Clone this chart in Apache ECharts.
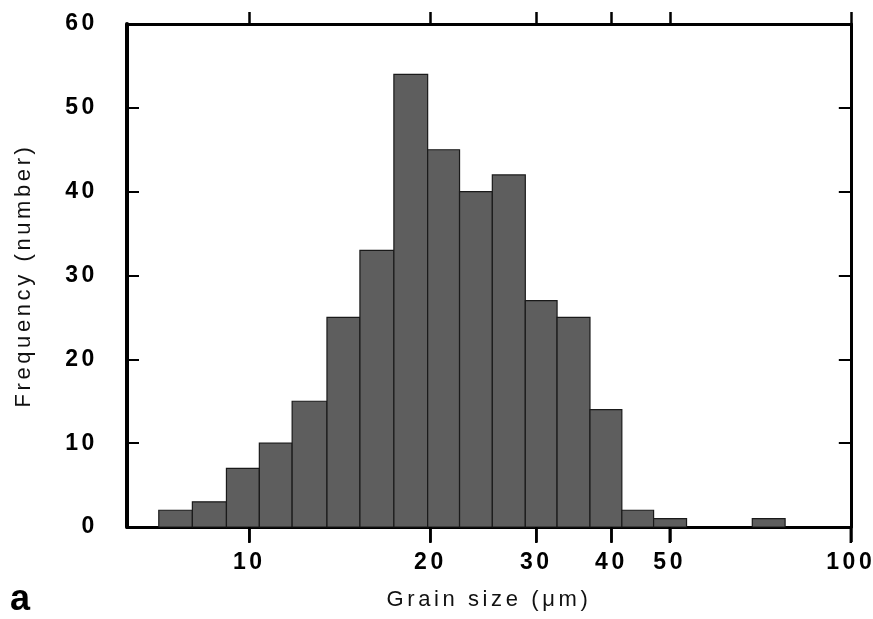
<!DOCTYPE html>
<html>
<head>
<meta charset="utf-8">
<title>Grain size histogram</title>
<script src="https://cdn.jsdelivr.net/npm/echarts@6/dist/echarts.min.js"></script>
<style>
html, body { margin: 0; padding: 0; background: #fff; }
#chart { width: 873px; height: 619px; }
</style>
</head>
<body>
<div id="chart"></div>
<script>
// bin edges in µm (one more edge than counts)
const binEdges = [7.07, 8.04, 9.16, 10.39, 11.78, 13.46, 15.27, 17.39, 19.79, 22.36,
    25.35, 28.76, 32.48, 36.84, 41.62, 47.0, 53.32, 60.47, 68.58, 77.76]
const counts = [2, 3, 7, 10, 15, 25, 33, 54, 45, 40, 42, 27, 25, 14, 2, 1, 0, 0, 1]
const xTicks = [10, 20, 30, 40, 50, 100]
const yTicks = [0, 10, 20, 30, 40, 50, 60]
const xMin = 6.26
const xMax = 100

// the x axis is drawn as a value axis over log10(size), so every tick lands exactly
const lg = v => Math.log10(v)
const barData = counts.map((c, i) => [lg(binEdges[i]), lg(binEdges[i + 1]), c])
const xTickPos = xTicks.map(lg)

const xName = 'Grain size (μm)'
const yName = 'Frequency (number)'

// the printed axis titles are letter-spaced: widen them when the canvas draws them
const spaced = new Set([xName, yName])
const origFillText = CanvasRenderingContext2D.prototype.fillText
CanvasRenderingContext2D.prototype.fillText = function (text, x, y, maxWidth) {
    if (spaced.has(text)) {
        const old = this.letterSpacing
        this.letterSpacing = '3.6px'
        origFillText.call(this, text, x, y)
        this.letterSpacing = old
        return
    }
    return maxWidth === undefined
        ? origFillText.call(this, text, x, y)
        : origFillText.call(this, text, x, y, maxWidth)
}

const font = 'Liberation Sans, Arial, Helvetica, sans-serif'
const labelStyle = {
    fontFamily: font,
    fontWeight: 'bold',
    fontSize: 23,
    color: '#000'
}
const nameStyle = {
    fontFamily: font,
    fontSize: 22,
    color: '#111'
}

let chartInstance = echarts.init(document.getElementById('chart'), null, { renderer: 'canvas' })

const xBase = {
    type: 'value',
    min: lg(xMin),
    max: lg(xMax),
    axisLine: { show: true, onZero: false, lineStyle: { color: '#000', width: 3 } },
    splitLine: { show: false },
    minorTick: { show: false }
}

const option = {
    animation: false,
    backgroundColor: '#fff',
    grid: {
        left: 127,
        right: 21,
        top: 24,
        bottom: 92,
        containLabel: false
    },
    xAxis: [
        {
            ...xBase,
            position: 'bottom',
            name: xName,
            nameLocation: 'middle',
            nameGap: 62,
            nameTextStyle: nameStyle,
            axisTick: {
                show: true,
                inside: false,
                length: 15,
                customValues: xTickPos,
                lineStyle: { color: '#000', width: 2.5 }
            },
            axisLabel: {
                show: true,
                customValues: xTickPos,
                margin: 24,
                formatter: v => String(Math.round(Math.pow(10, v))),
                ...labelStyle
            }
        },
        {
            ...xBase,
            position: 'top',
            axisTick: {
                show: true,
                inside: false,
                length: 12,
                customValues: xTickPos,
                lineStyle: { color: '#000', width: 2.5 }
            },
            axisLabel: { show: false }
        }
    ],
    yAxis: [
        {
            type: 'value',
            position: 'left',
            min: yTicks[0],
            max: yTicks[yTicks.length - 1],
            interval: 10,
            name: yName,
            nameLocation: 'middle',
            nameGap: 92,
            nameTextStyle: nameStyle,
            axisLine: { show: true, lineStyle: { color: '#000', width: 4 } },
            axisTick: { show: true, inside: true, length: 12, lineStyle: { color: '#000', width: 2 } },
            axisLabel: { margin: 29, ...labelStyle },
            splitLine: { show: false }
        },
        {
            type: 'value',
            position: 'right',
            min: yTicks[0],
            max: yTicks[yTicks.length - 1],
            interval: 10,
            axisLine: { show: true, lineStyle: { color: '#000', width: 3 } },
            axisTick: { show: true, inside: true, length: 12, lineStyle: { color: '#000', width: 2 } },
            axisLabel: { show: false },
            splitLine: { show: false }
        }
    ],
    graphic: [
        {
            type: 'text',
            left: 10,
            top: 582,
            style: {
                text: 'a',
                font: 'bold 36px ' + font,
                lineHeight: 36,
                fill: '#000'
            }
        }
    ],
    series: [
        {
            type: 'custom',
            xAxisIndex: 0,
            yAxisIndex: 0,
            encode: { x: [0, 1], y: 2 },
            data: barData,
            renderItem: (params, api) => {
                if (api.value(2) <= 0) return null
                const p0 = api.coord([api.value(0), 0])
                const p1 = api.coord([api.value(1), api.value(2)])
                return {
                    type: 'rect',
                    shape: {
                        x: p0[0],
                        y: p1[1],
                        width: p1[0] - p0[0],
                        height: p0[1] - p1[1]
                    },
                    style: {
                        fill: '#5e5e5e',
                        stroke: '#1a1a1a',
                        lineWidth: 1.2
                    }
                }
            },
            z: 1
        },
        {
            // bottom axis ticks, pointing down out of the frame
            type: 'custom',
            xAxisIndex: 0,
            yAxisIndex: 0,
            encode: { x: 0, y: 1 },
            data: xTickPos.map(v => [v, 0]),
            silent: true,
            clip: false,
            renderItem: (params, api) => {
                const p = api.coord([api.value(0), api.value(1)])
                return {
                    type: 'line',
                    shape: { x1: p[0], y1: p[1], x2: p[0], y2: p[1] + 16 },
                    style: { stroke: '#000', lineWidth: 2.5 }
                }
            },
            z: 6
        }
    ]
}

chartInstance.setOption(option)
</script>
</body>
</html>
